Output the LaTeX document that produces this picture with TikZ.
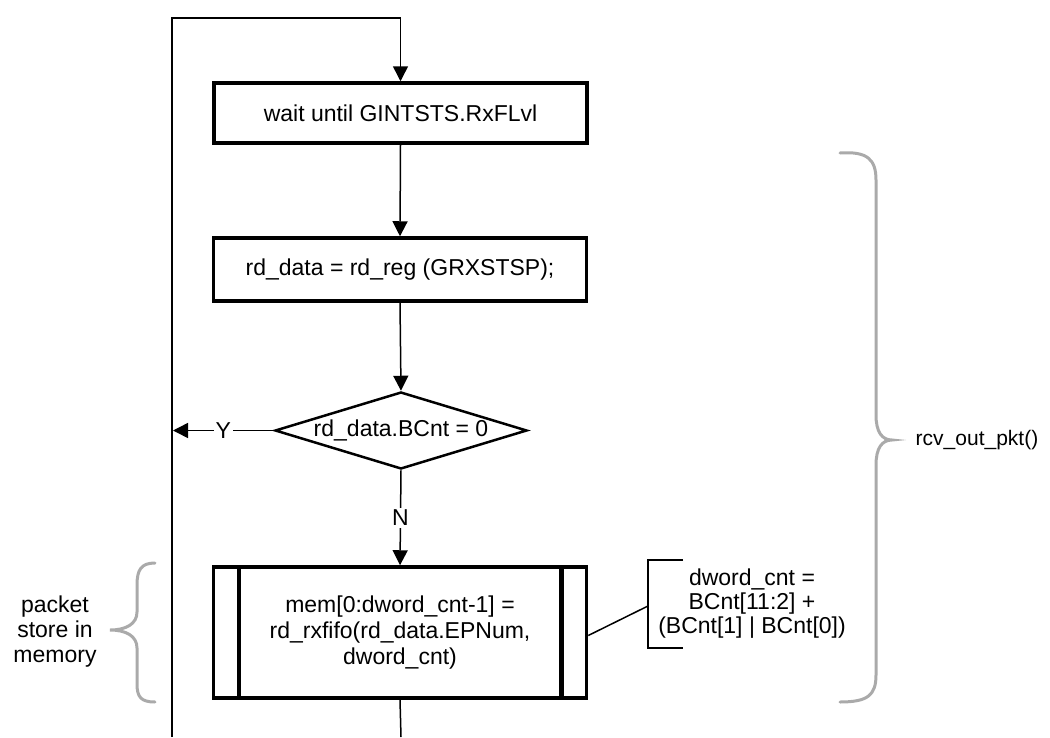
\documentclass[tikz,border=0pt]{standalone}
\usepackage{fontspec}
\setmainfont{Liberation Sans}
\usetikzlibrary{arrows.meta,shapes.geometric}
\definecolor{bracegray}{RGB}{170,170,170}
\begin{document}
\begin{tikzpicture}[x=1pt,y=-1pt,
  thin/.style={line width=1.5pt},
  arr/.style={thin,-{Triangle[width=15pt,length=15pt]}},
  txt/.style={font=\fontsize{23}{26}\selectfont, align=center, inner sep=1pt},
  box/.style={draw, line width=3.5pt, inner sep=0pt, minimum width=373pt, txt},
  brace/.style={draw=bracegray, line width=3pt, line cap=round},
  lbl/.style={txt, fill=white, inner sep=2pt}]
\useasboundingbox (0,0) rectangle (1050,737);
% boxes
\node[box, minimum height=60pt] (b1) at (400.5,113) {wait until GINTSTS.RxFLvl};
\node[box, minimum height=63pt] (b2) at (400,269.5) {rd\_data = rd\_reg (GRXSTSP);};
\node[diamond, draw, line width=2.5pt, minimum width=252pt, minimum height=77pt, inner sep=0pt] (d) at (401,430.5) {};
\node[txt] (dt) at (d.center) {rd\_data.BCnt = 0};
\node[box, minimum height=131pt] (b3) at (400,632.5) {mem[0:dword\_cnt-1] =\\rd\_rxfifo(rd\_data.EPNum,\\dword\_cnt)};
\draw[line width=4.5pt] ([xshift=27pt]b3.north west) -- ([xshift=27pt]b3.south west);
\draw[line width=4.5pt] ([xshift=-27pt]b3.north east) -- ([xshift=-27pt]b3.south east);
\draw[line width=2pt] ([xshift=1.5pt]b1.north west) -- ([xshift=1.5pt]b1.south west);
\draw[line width=2pt] ([xshift=1.5pt]b2.north west) -- ([xshift=1.5pt]b2.south west);
% loop line
\coordinate (lb) at (172,737);
\coordinate (lt) at (172,18);
\coordinate (ly) at (173,430.5);
\coordinate (bot) at (401,737);
\draw[arr] (lb) -- (lt) -| (b1.north);
\draw[arr] (b1.south) -- (b2.north);
\draw[arr] (b2.south) -- (d.north);
\draw[arr] (d.west) -- node[lbl] {Y} (ly);
\draw[arr] (d.south) -- node[lbl] {N} (b3.north);
\draw[thin] (b3.south) -- (bot);
% dword_cnt note
\coordinate (bkt) at (683,560);
\coordinate (bktl) at (648,560);
\coordinate (bkm) at (648,606);
\coordinate (bkbl) at (648,648);
\coordinate (bkb) at (683,648);
\draw[thin] (bkt) -- (bktl) -- (bkbl) -- (bkb);
\draw[thin] ([yshift=-3pt]b3.east) -- (bkm);
\node[font=\fontsize{23}{24}\selectfont, align=center, inner sep=0pt] (dc) at (752,604) {dword\_cnt =\\BCnt[11:2] +\\(BCnt[1] | BCnt[0])};
% left brace
\draw[brace] (155,563) .. controls (141,563) and (137,570) .. (137,585) -- (137,612)
  .. controls (137,624) and (126,630) .. (110,630)
  .. controls (126,630) and (137,636) .. (137,648) -- (137,684)
  .. controls (137,697) and (141,702) .. (155,702);
\node[font=\fontsize{23}{25}\selectfont, align=center, inner sep=0pt] (ps) at (55,632) {packet\\store in\\memory};
% right brace
\draw[brace] (840,153) .. controls (868,151) and (876,160) .. (876,180) -- (876,415)
  .. controls (876,432) and (882,440) .. (892,440)
  .. controls (882,440) and (876,448) .. (876,465) -- (876,675)
  .. controls (876,695) and (868,702) .. (840,702);
\node[font=\fontsize{21}{24}\selectfont, inner sep=0pt] (rcv) at (977,440) {rcv\_out\_pkt()};
\end{tikzpicture}
\end{document}
